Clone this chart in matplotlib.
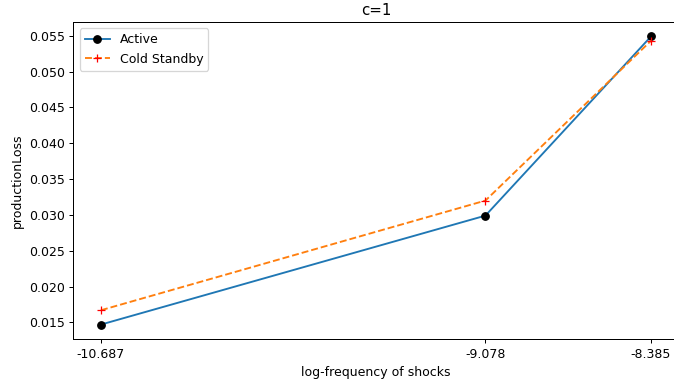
import numpy as np
import matplotlib
matplotlib.use("Agg")
import matplotlib.pyplot as plt

log_freq = [-10.687, -9.078, -8.385]
active = [0.0147, 0.0299, 0.0549]
cold_standby = [0.0167, 0.0320, 0.0543]

# reference looks like a ~90 dpi render, cropped a little on the right
fig, ax = plt.subplots(figsize=(674 / 90, 380 / 90), dpi=90)
ax.plot(log_freq, active, "-", color="tab:blue", marker="o", markerfacecolor="black",
        markeredgecolor="black", label="Active")
ax.plot(log_freq, cold_standby, "--", color="tab:orange", marker="+", markerfacecolor="red",
        markeredgecolor="red", label="Cold Standby")
ax.set_xticks(log_freq)
ax.set_xticklabels([f"{v:.3f}" for v in log_freq])
ax.set_xlabel("log-frequency of shocks")
ax.set_ylabel("productionLoss")
ax.set_title("c=1")
ax.legend(loc="upper left")
fig.subplots_adjust(left=0.109, right=1.0067, top=0.942, bottom=0.108)
fig.savefig("out.png", dpi=90)
